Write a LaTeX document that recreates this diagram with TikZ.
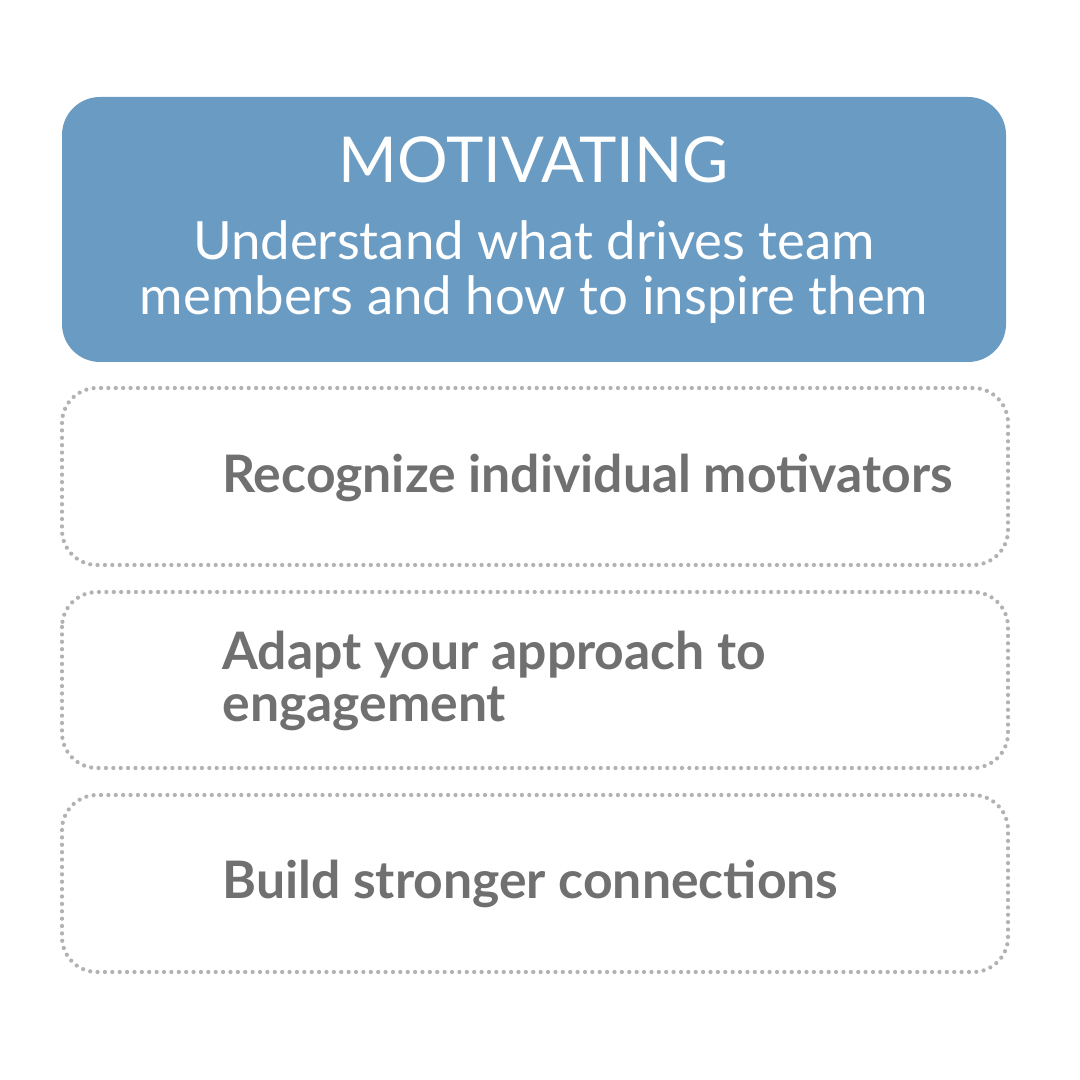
\documentclass[tikz,border=0pt]{standalone}
\usepackage{fontspec}
\setmainfont{Lato}
\definecolor{hdr}{HTML}{6A9BC3}
\definecolor{txt}{HTML}{707070}
\begin{document}
\begin{tikzpicture}[x=0.01cm,y=-0.01cm,
  item/.style={draw=gray!60,line width=1.2pt,dash pattern=on 0pt off 2.1pt,line cap=round,rounded corners=0.35cm},
  itext/.style={anchor=west,text=txt,font=\fontsize{14.7}{15}\selectfont\bfseries,align=left}]
\useasboundingbox (0,0) rectangle (1080,1080);
\fill[white] (0,0) rectangle (1080,1080);
\fill[hdr,rounded corners=0.38cm] (62,97) rectangle (1006,362);
\node (title) at (534,160) {\fontsize{18}{20}\selectfont\color{white}MOTIVATING};
\node[align=center,text=white,font=\fontsize{15}{15.8}\selectfont] (sub) at (534,272) {Understand what drives team\\members and how to inspire them};
\draw[item] (62,388) rectangle (1008,565);
\draw[item] (62,592) rectangle (1008,768);
\draw[item] (62,795) rectangle (1008,972);
\node[itext] (a) at (210,478) {Recognize individual motivators};
\node[itext] (b) at (210,681) {Adapt your approach to\\engagement};
\node[itext] (c) at (210,884) {Build stronger connections};
\end{tikzpicture}
\end{document}
